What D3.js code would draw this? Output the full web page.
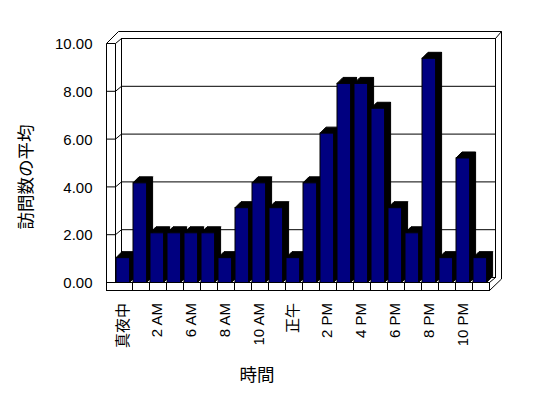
<!DOCTYPE html>
<html>
<head>
<meta charset="utf-8">
<script src="https://d3js.org/d3.v7.min.js"></script>
<style>
  body { margin: 0; background: #fff; }
  text { font-family: "Liberation Sans", Arial, "Noto Sans CJK JP", sans-serif; fill: #000; }
</style>
</head>
<body>
<script>
// hours (two hours missing in the data between 2 AM and 6 AM)
const categories = ["真夜中","1 AM","2 AM","3 AM","6 AM","7 AM","8 AM","9 AM","10 AM","11 AM","正午",
  "1 PM","2 PM","3 PM","4 PM","5 PM","6 PM","7 PM","8 PM","9 PM","10 PM","11 PM"];
const visits = [1.04,4.17,2.08,2.08,2.08,2.08,1.04,3.13,4.17,3.13,1.04,4.17,
  6.25,8.33,8.33,7.29,3.13,2.08,9.38,1.04,5.21,1.04];
const yTicks = [0,2,4,6,8,10];
const yTitle = "訪問数の平均";
const xTitle = "時間";

const W = 548, H = 398;
const svg = d3.select('body').append('svg')
  .attr('width', W)
  .attr('height', H);

// front plane and back plane of the 3d box
const yF = d3.scaleLinear().domain([0, 10]).range([282.5, 43.5]);
const yB = d3.scaleLinear().domain([0, 10]).range([277.5, 38.5]);
const x = d3.scaleBand().domain(categories).range([114.5, 488.5]);

const wallL = 106.5, inL = 115.5, backL = 121.5, backR = 495.5, outR = 501.5, outTop = 31.5;
const floorBot = 290.5, floorR = 489.5;

const frame = svg.append('g')
  .attr('fill', 'none')
  .attr('stroke', '#000')
  .attr('stroke-width', 1);

// back wall
frame.append('rect')
  .attr('x', backL).attr('y', yB(10))
  .attr('width', backR - backL).attr('height', yB(0) - yB(10))
  .attr('fill', '#fff');

frame.selectAll('.grid')
  .data(yTicks.filter(d => d > 0 && d < 10))
  .enter().append('path')
  .attr('class', 'grid')
  .attr('d', d => `M${wallL},${yF(d)}L${inL},${yF(d)}L${backL},${yB(d)}L${backR},${yB(d)}`);

// wall outlines
frame.append('path')
  .attr('d', `M${wallL},${floorBot}L${wallL},${yF(10)}L${wallL + 12},${outTop}L${outR},${outTop}L${outR},279`);
frame.append('path')
  .attr('d', `M${wallL},${yF(10)}L${inL},${yF(10)}L${inL},${yF(0)}`);
frame.append('path')
  .attr('d', `M${inL},${yF(10)}L${backL},${yB(10)}`);
frame.append('path')
  .attr('d', `M${backR},${yB(10)}L${outR},${outTop}`);

// floor
frame.append('rect')
  .attr('x', wallL).attr('y', yF(0))
  .attr('width', floorR - wallL).attr('height', floorBot - yF(0))
  .attr('fill', '#fff');
frame.append('path')
  .attr('d', `M${floorR},${yF(0)}L${backR},${yB(0)}M${floorR},${floorBot}L${outR},279`);
frame.selectAll('.cat-tick')
  .data(categories.slice(1))
  .enter().append('line')
  .attr('class', 'cat-tick')
  .attr('x1', d => Math.round(x(d)) + 0.5)
  .attr('x2', d => Math.round(x(d)) + 0.5)
  .attr('y1', yF(0))
  .attr('y2', floorBot);

// bars, drawn left to right so each covers the side of the one before
const dx = 6, dy = -6;
const bw = x.bandwidth() * 0.8;
const bars = svg.selectAll('.bar')
  .data(categories.map((c, i) => ({ c: c, v: visits[i] })))
  .enter().append('g')
  .attr('class', 'bar');

bars.append('path')
  .attr('fill', '#000')
  .attr('stroke', '#000')
  .attr('d', d => {
    const x0 = Math.round(x(d.c)) + 1, x1 = x0 + bw, yt = yF(d.v), yb = yF(0);
    return `M${x1},${yt}L${x1 + dx},${yt + dy}L${x1 + dx},${yb + dy}L${x1},${yb}Z` +
           `M${x0},${yt}L${x0 + dx},${yt + dy}L${x1 + dx},${yt + dy}L${x1},${yt}Z`;
  });

bars.append('rect')
  .attr('x', d => Math.round(x(d.c)) + 1)
  .attr('y', d => yF(d.v))
  .attr('width', bw)
  .attr('height', d => yF(0) - yF(d.v))
  .attr('fill', '#000080')
  .attr('stroke', '#000');

// value axis
const yAxis = svg.append('g')
  .attr('transform', `translate(${wallL},0)`)
  .call(d3.axisLeft(yF).tickValues(yTicks).tickFormat(d3.format('.2f')).tickSize(0).tickPadding(14));
yAxis.select('.domain').remove();
yAxis.selectAll('text')
  .attr('font-size', 15)
  .attr('font-family', '"Liberation Sans", Arial, sans-serif')
  .attr('dy', '0.35em');

// category labels, every other one
svg.selectAll('.xlab')
  .data(categories.filter((c, i) => i % 2 === 0))
  .enter().append('text')
  .attr('class', 'xlab')
  .attr('font-size', 15)
  .attr('text-anchor', 'end')
  .attr('dy', '0.35em')
  .attr('transform', d => `translate(${x(d) + x.bandwidth() / 2},303) rotate(-90)`)
  .text(d => d);

// titles
svg.append('text')
  .attr('font-size', 17.5)
  .attr('text-anchor', 'middle')
  .attr('dy', '0.35em')
  .attr('transform', 'translate(26,177) rotate(-90)')
  .text(yTitle);

svg.append('text')
  .attr('font-size', 17.5)
  .attr('text-anchor', 'middle')
  .attr('x', 257)
  .attr('y', 375)
  .attr('dy', '0.35em')
  .text(xTitle);
</script>
</body>
</html>
